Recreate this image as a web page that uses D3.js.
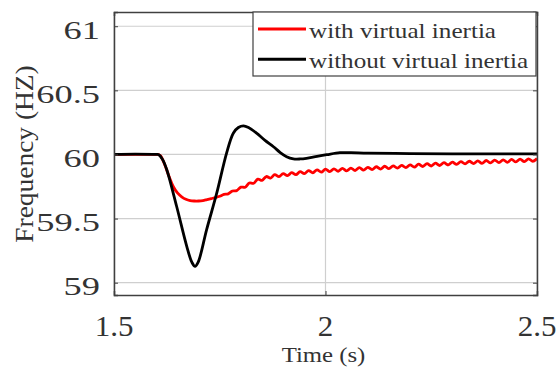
<!DOCTYPE html>
<html>
<head>
<meta charset="utf-8">
<script src="https://cdn.jsdelivr.net/npm/d3@7"></script>
<style>
  html, body { margin: 0; padding: 0; background: #fff; }
  svg { display: block; }
</style>
</head>
<body>
<svg id="chart" width="557" height="376"></svg>
<script>
// ---- data ----
const xTicks = [1.5, 2, 2.5];
const yTicks = [59, 59.5, 60, 60.5, 61];
const xTitle = "Time (s)";
const yTitle = "Frequency (HZ)";
const seriesNames = ["with virtual inertia", "without virtual inertia"];
const seriesColors = ["#ff0000", "#000000"];

// frequency response without virtual inertia
const noVITime = [1.50, 1.55, 1.60, 1.606, 1.615, 1.625, 1.648, 1.672, 1.684, 1.6915, 1.699,
  1.719, 1.743, 1.766, 1.782, 1.794, 1.806, 1.818, 1.837, 1.857, 1.877, 1.893, 1.908,
  1.924, 1.94, 1.955, 1.98, 2.003, 2.034, 2.06, 2.10, 2.20, 2.30, 2.40, 2.50];
const noVIFreq = [60.000, 60.002, 60.000, 59.998, 59.96, 59.879, 59.596, 59.284, 59.16, 59.127, 59.16,
  59.414, 59.70, 60.009, 60.166, 60.21, 60.223, 60.21, 60.166, 60.11, 60.06, 60.015, 59.983,
  59.966, 59.965, 59.97, 59.985, 59.998, 60.014, 60.014, 60.010, 60.007, 60.005, 60.004, 60.004];

// frequency response with virtual inertia (includes the small converter ripple)
const viTime = [1.50, 1.55, 1.60, 1.605, 1.61, 1.62, 1.63, 1.64, 1.65, 1.66, 1.67, 1.68, 1.69,
  1.70, 1.71, 1.72, 1.73, 1.74, 1.75, 1.76, 1.77, 1.78, 1.79,
  1.80, 1.81, 1.82, 1.83, 1.84, 1.85, 1.86, 1.87, 1.88, 1.89,
  1.90, 1.91, 1.92, 1.93, 1.94, 1.95, 1.96, 1.97, 1.98, 1.99,
  2.00, 2.01, 2.02, 2.03, 2.04, 2.05, 2.06, 2.07, 2.08, 2.09,
  2.10, 2.11, 2.12, 2.13, 2.14, 2.15, 2.16, 2.17, 2.18, 2.19,
  2.20, 2.21, 2.22, 2.23, 2.24, 2.25, 2.26, 2.27, 2.28, 2.29,
  2.30, 2.31, 2.32, 2.33, 2.34, 2.35, 2.36, 2.37, 2.38, 2.39,
  2.40, 2.41, 2.42, 2.43, 2.44, 2.45, 2.46, 2.47, 2.48, 2.49, 2.50];
const viFreq = [60.000, 60.000, 60.000, 59.999, 59.99, 59.92, 59.83, 59.75, 59.70, 59.67, 59.65, 59.64, 59.637,
  59.637, 59.640, 59.648, 59.656, 59.664, 59.674, 59.688, 59.693, 59.715, 59.718,
  59.745, 59.744, 59.777, 59.775, 59.808, 59.798, 59.828, 59.816, 59.842, 59.827,
  59.851, 59.835, 59.858, 59.842, 59.866, 59.850, 59.874, 59.857, 59.880, 59.862,
  59.885, 59.866, 59.888, 59.869, 59.891, 59.872, 59.894, 59.875, 59.897, 59.878,
  59.900, 59.882, 59.904, 59.886, 59.908, 59.889, 59.911, 59.893, 59.915, 59.897,
  59.919, 59.901, 59.924, 59.906, 59.928, 59.910, 59.932, 59.914, 59.936, 59.918,
  59.940, 59.922, 59.944, 59.926, 59.947, 59.929, 59.950, 59.931, 59.953, 59.934,
  59.956, 59.937, 59.958, 59.939, 59.961, 59.942, 59.963, 59.944, 59.966, 59.947, 59.968];

// ---- layout ----
const FONT = "'Liberation Serif', 'Times New Roman', serif";
const TEXT = "#333333";
const AXIS = "#404040";
const plot = { left: 114, right: 537, top: 12, bottom: 295 };

const svg = d3.select("#chart");
svg.append("rect").attr("width", 557).attr("height", 376).attr("fill", "#fff");

const x = d3.scaleLinear().domain([1.5, 2.5]).range([plot.left, plot.right]);
const y = d3.scaleLinear().domain([58.904, 61.111]).range([plot.bottom, plot.top]);

// grid
const grid = svg.append("g").attr("stroke", "#cfcfcf").attr("stroke-width", 1.2);
grid.selectAll("line.gy").data(yTicks).join("line")
  .attr("x1", plot.left).attr("x2", plot.right)
  .attr("y1", d => y(d)).attr("y2", d => y(d));
grid.selectAll("line.gx").data(xTicks).join("line")
  .attr("y1", plot.top).attr("y2", plot.bottom)
  .attr("x1", d => x(d)).attr("x2", d => x(d));

// lines
svg.append("defs").append("clipPath").attr("id", "clip")
  .append("rect").attr("x", plot.left).attr("y", plot.top)
  .attr("width", plot.right - plot.left).attr("height", plot.bottom - plot.top);

const line = d3.line().x(d => x(d[0])).y(d => y(d[1])).curve(d3.curveCatmullRom.alpha(0.5));
const series = [
  d3.zip(viTime, viFreq),
  d3.zip(noVITime, noVIFreq)
];
svg.append("g").attr("clip-path", "url(#clip)")
  .selectAll("path").data(series).join("path")
  .attr("d", line)
  .attr("fill", "none")
  .attr("stroke", (d, i) => seriesColors[i])
  .attr("stroke-width", 2.8)
  .attr("stroke-linejoin", "round");

// axes (box with inward ticks)
const axL = svg.append("g").attr("transform", `translate(${plot.left},0)`)
  .call(d3.axisLeft(y).tickValues(yTicks).tickSize(-4).tickFormat(""));
const axR = svg.append("g").attr("transform", `translate(${plot.right},0)`)
  .call(d3.axisRight(y).tickValues(yTicks).tickSize(-4).tickFormat(""));
const axB = svg.append("g").attr("transform", `translate(0,${plot.bottom})`)
  .call(d3.axisBottom(x).tickValues(xTicks).tickSize(-4).tickFormat(""));
const axT = svg.append("g").attr("transform", `translate(0,${plot.top})`)
  .call(d3.axisTop(x).tickValues(xTicks).tickSize(-4).tickFormat(""));
[axL, axR, axB, axT].forEach(a => {
  a.selectAll("path.domain").attr("stroke", AXIS).attr("stroke-width", 1.5);
  a.selectAll(".tick line").attr("stroke", AXIS).attr("stroke-width", 1);
});

// tick labels
svg.append("g").selectAll("g").data(yTicks).join("g")
  .attr("transform", d => `translate(100,${y(d) + 12.5}) scale(1.4,1)`)
  .append("text")
  .attr("text-anchor", "end")
  .attr("font-family", FONT).attr("font-size", 26).attr("fill", TEXT)
  .text(d => d3.format("")(d));

svg.append("g").selectAll("g").data(xTicks).join("g")
  .attr("transform", d => `translate(${x(d)},336) scale(1.05,1)`)
  .append("text")
  .attr("text-anchor", "middle")
  .attr("font-family", FONT).attr("font-size", 29.5).attr("fill", TEXT)
  .text(d => d3.format("")(d));

// axis titles
svg.append("g").attr("transform", "translate(323.5,362) scale(1.18,1)")
  .append("text").attr("text-anchor", "middle")
  .attr("font-family", FONT).attr("font-size", 21).attr("fill", TEXT)
  .text(xTitle);

svg.append("g").attr("transform", "translate(33,154) rotate(-90) scale(1.12,1)")
  .append("text").attr("text-anchor", "middle")
  .attr("font-family", FONT).attr("font-size", 24.5).attr("fill", TEXT)
  .text(yTitle);

// legend
const lg = svg.append("g");
lg.append("rect").attr("x", 253).attr("y", plot.top).attr("width", 283).attr("height", 64)
  .attr("fill", "#fff").attr("stroke", AXIS).attr("stroke-width", 1.2);
const rows = lg.selectAll("g.row").data(seriesNames).join("g")
  .attr("transform", (d, i) => `translate(0,${29 + i * 30.3})`);
rows.append("line").attr("x1", 258).attr("x2", 306).attr("y1", 0).attr("y2", 0)
  .attr("stroke", (d, i) => seriesColors[i]).attr("stroke-width", 3);
rows.append("g").attr("transform", "translate(309,8.5) scale(1.17,1)")
  .append("text")
  .attr("font-family", FONT).attr("font-size", 21.5).attr("fill", TEXT)
  .text(d => d);
</script>
</body>
</html>
